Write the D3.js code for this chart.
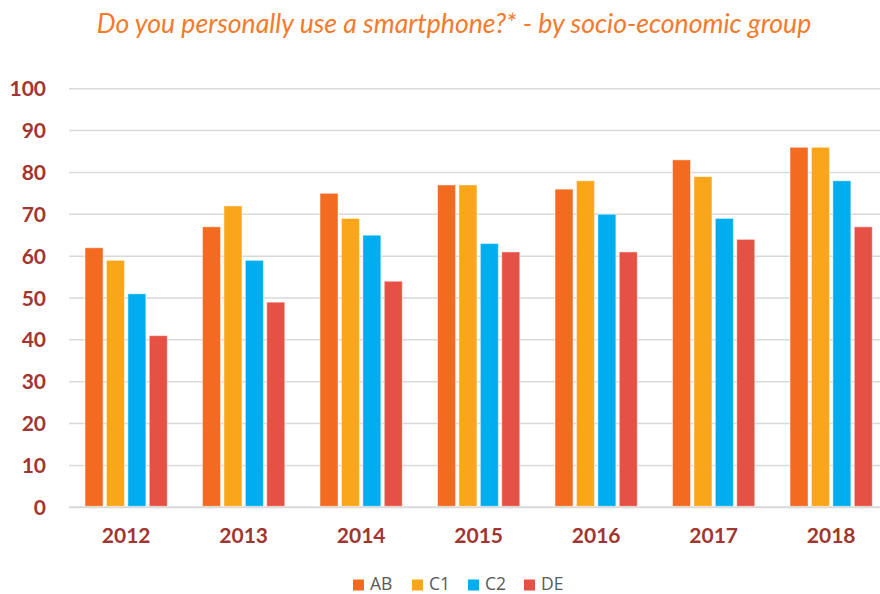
<!DOCTYPE html>
<html>
<head>
<meta charset="utf-8">
<script src="https://cdn.jsdelivr.net/npm/d3@7"></script>
<style>
  body { margin: 0; background: #fff; }
  svg { display: block; }
</style>
</head>
<body>
<svg width="880" height="594"></svg>
<script>
let width = 880;
let height = 594;

let years = ["2012", "2013", "2014", "2015", "2016", "2017", "2018"];
let groups = ["AB", "C1", "C2", "DE"];
let colors = ["#F26B21", "#FAA61A", "#00AEEF", "#E55245"];

let ab = [62, 67, 75, 77, 76, 83, 86];
let c1 = [59, 72, 69, 77, 78, 79, 86];
let c2 = [51, 59, 65, 63, 70, 69, 78];
let de = [41, 49, 54, 61, 61, 64, 67];
let yTicks = [0, 10, 20, 30, 40, 50, 60, 70, 80, 90, 100];

let series = [ab, c1, c2, de];
let svg = d3.select("svg");

svg.append("text")
  .attr("x", 454)
  .attr("y", 33)
  .attr("text-anchor", "middle")
  .style("font-family", "Lato")
  .style("font-style", "italic")
  .style("font-size", "26.6px")
  .style("fill", "#F47A2C")
  .text("Do you personally use a smartphone?* - by socio-economic group");

var yScale = d3.scaleLinear().domain([0, 100]).range([507.3, 88.7]);

var x0 = d3.scaleBand()
  .domain(years)
  .range([67.4, 889.9])
  .paddingInner(0.3)
  .paddingOuter(0.15);

var x1 = d3.scaleBand()
  .domain(groups)
  .range([0, x0.bandwidth()])
  .paddingInner(0.16);

// gridlines
svg.append("g")
  .selectAll("line")
  .data(yTicks)
  .enter()
  .append("line")
  .attr("x1", 69)
  .attr("x2", 880)
  .attr("y1", function(d) { return yScale(d); })
  .attr("y2", function(d) { return yScale(d); })
  .style("stroke", "#D9D9D9")
  .style("stroke-width", function(d) { return d == 0 ? 2 : 1.5; });

// y labels
svg.append("g")
  .selectAll("text")
  .data(yTicks)
  .enter()
  .append("text")
  .attr("x", 46)
  .attr("y", function(d) { return yScale(d) + 7.5; })
  .attr("text-anchor", "end")
  .style("font-family", "Lato")
  .style("font-weight", "bold")
  .style("font-size", "21px")
  .style("fill", "#A0362F")
  .text(function(d) { return d; });

// bars
var yearG = svg.append("g")
  .selectAll("g")
  .data(years)
  .enter()
  .append("g")
  .attr("transform", function(d) { return "translate(" + x0(d) + ",0)"; });

yearG.selectAll("rect")
  .data(function(d, i) {
    return groups.map(function(g, j) {
      return { group: g, value: series[j][i], color: colors[j] };
    });
  })
  .enter()
  .append("rect")
  .attr("x", function(d) { return x1(d.group); })
  .attr("y", function(d) { return yScale(d.value); })
  .attr("width", x1.bandwidth())
  .attr("height", function(d) { return yScale(0) - yScale(d.value) - 1; })
  .style("fill", function(d) { return d.color; })
  .style("stroke", "rgba(255,255,255,0.45)")
  .style("stroke-width", 1);

// x labels
svg.append("g")
  .selectAll("text")
  .data(years)
  .enter()
  .append("text")
  .attr("x", function(d) { return x0(d) + x0.bandwidth() / 2; })
  .attr("y", 542.5)
  .attr("text-anchor", "middle")
  .style("font-family", "Lato")
  .style("font-weight", "bold")
  .style("font-size", "21px")
  .style("fill", "#A0362F")
  .text(function(d) { return d; });

// legend
let legendX = [353, 412, 468, 524];
var leg = svg.append("g")
  .selectAll("g")
  .data(groups)
  .enter()
  .append("g")
  .attr("transform", function(d, i) { return "translate(" + legendX[i] + ",579.5)"; });

leg.append("rect")
  .attr("width", 11)
  .attr("height", 11)
  .style("fill", function(d, i) { return colors[i]; });

leg.append("text")
  .attr("x", 17)
  .attr("y", 10)
  .style("font-family", "Open Sans")
  .style("font-size", "17.5px")
  .style("fill", "#595959")
  .text(function(d) { return d; });
</script>
</body>
</html>
